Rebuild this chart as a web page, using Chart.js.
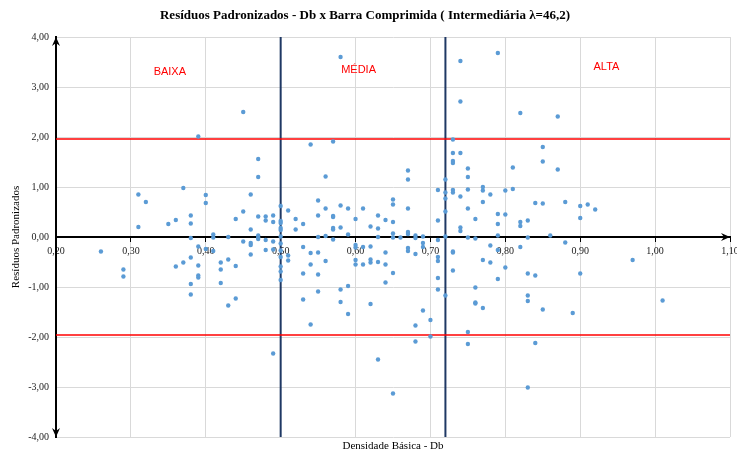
<!DOCTYPE html>
<html lang="pt">
<head>
<meta charset="utf-8">
<title>Resíduos Padronizados - Db x Barra Comprimida</title>
<script src="https://cdn.jsdelivr.net/npm/chart.js@4.4.1/dist/chart.umd.min.js"></script>
<style>
  html, body { margin: 0; padding: 0; background: #fff; }
  #wrap { width: 737px; height: 452px; position: relative; }
</style>
</head>
<body>
<div id="wrap"><canvas id="residuosChart"></canvas></div>
<script>
// densidade básica (x) e resíduos padronizados lidos em cada coluna
const dbValues = [
  0.26, 0.29, 0.31, 0.32, 0.35, 0.36, 0.37, 0.38, 0.39, 0.40,
  0.41, 0.42, 0.43, 0.44, 0.45, 0.46, 0.47, 0.48, 0.49, 0.50,
  0.51, 0.52, 0.53, 0.54, 0.55, 0.56, 0.57, 0.58, 0.59, 0.60,
  0.61, 0.62, 0.63, 0.64, 0.65, 0.66, 0.67, 0.68, 0.69, 0.70,
  0.71, 0.72, 0.73, 0.74, 0.75, 0.76, 0.77, 0.78, 0.79, 0.80,
  0.81, 0.82, 0.83, 0.84, 0.85, 0.86, 0.87, 0.88, 0.89, 0.90,
  0.91, 0.92, 0.97, 1.01
];
const residuosPorDb = [
  [-0.29],
  [-0.65, -0.79],
  [0.85, 0.20],
  [0.70],
  [0.26],
  [0.34, -0.59],
  [0.98, -0.51],
  [0.43, 0.27, -0.02, -0.41, -0.94, -1.15],
  [2.01, -0.19, -0.57, -0.77, -0.81],
  [0.84, 0.68, -0.24],
  [0.05, -0.01, -0.28],
  [-0.51, -0.65, -0.92],
  [0.00, -0.45, -1.37],
  [0.36, -0.58, -1.23],
  [2.50, 0.51, -0.09],
  [0.85, 0.15, -0.12, -0.16, -0.35],
  [1.56, 1.20, 0.41, 0.03, -0.01, -0.04],
  [0.41, 0.33, -0.06, -0.26],
  [0.43, 0.30, -0.09, -0.25, -2.33],
  [0.62, 0.32, 0.28, 0.18, 0.14, 0.01, -0.13, -0.27, -0.40, -0.59, -0.69, -0.86],
  [0.53, -0.37, -0.47],
  [0.36, 0.15],
  [0.26, -0.20, -0.73, -1.25],
  [1.85, -0.32, -0.55, -1.75],
  [0.73, 0.43, 0.00, -0.31, -0.75, -1.09],
  [1.21, 0.57, 0.02, -0.48],
  [1.91, 0.42, 0.40, 0.18, 0.15, -0.05],
  [3.60, 0.63, 0.19, -1.05, -1.30],
  [0.57, 0.05, -0.98, -1.54],
  [0.36, -0.16, -0.21, -0.46, -0.55],
  [0.57, -0.20, -0.55],
  [0.21, -0.19, -0.45, -0.51, -1.34],
  [0.43, 0.17, 0.00, -0.50, -2.45],
  [0.34, -0.31, -0.55, -0.91],
  [0.75, 0.65, 0.30, 0.07, -0.01, -0.72, -3.13],
  [-0.01],
  [1.33, 1.15, 0.57, 0.10, 0.06, -0.22, -0.28],
  [0.03, -0.02, -0.34, -1.77, -2.09],
  [0.01, -0.12, -0.20, -1.47],
  [-1.66, -1.99],
  [0.94, 0.33, -0.06, -0.40, -0.48, -0.82, -1.05],
  [1.15, 0.89, 0.77, 0.51, 0.01, -1.17],
  [1.95, 1.68, 1.52, 1.48, 0.94, 0.89, -0.29, -0.31, -0.67],
  [3.52, 2.71, 1.68, 0.81, 0.19, 0.12],
  [1.37, 1.20, 0.95, 0.57, -0.01, -1.90, -2.14],
  [0.36, -0.03, -1.01, -1.31, -1.33],
  [1.00, 0.93, 0.70, -0.46, -1.42],
  [0.85, -0.17, -0.51],
  [3.68, 0.46, 0.26, 0.03, -0.26, -0.84],
  [0.93, 0.45, -0.61],
  [1.39, 0.96],
  [2.48, 0.30, 0.22, -0.20],
  [0.33, -0.01, -0.73, -1.17, -1.28, -3.01],
  [0.68, -0.77, -2.12],
  [1.80, 1.51, 0.67, -1.45],
  [0.03],
  [2.41, 1.35],
  [0.70, -0.11],
  [-1.52],
  [0.62, 0.38, -0.73],
  [0.65],
  [0.55],
  [-0.46],
  [-1.27]
];
const xTickLabels = ["0,20", "0,30", "0,40", "0,50", "0,60", "0,70", "0,80", "0,90", "1,00", "1,10"];
const yTickLabels = ["-4,00", "-3,00", "-2,00", "-1,00", "0,00", "1,00", "2,00", "3,00", "4,00"];
const limiteResiduo = 1.96;
const limitesClasse = [0.50, 0.72];
const classes = ["BAIXA", "MÉDIA", "ALTA"];

const pontos = [];
dbValues.forEach((db, i) => {
  residuosPorDb[i].forEach((r) => pontos.push({ x: db, y: r }));
});

const serif = "'Liberation Serif', 'Times New Roman', serif";

// setas nas pontas dos eixos
const axisArrows = {
  id: "axisArrows",
  afterDraw(chart) {
    const { ctx, chartArea: a, scales } = chart;
    const y0 = scales.y.getPixelForValue(0);
    const x0 = scales.x.getPixelForValue(0.2);
    const arrow = (tx, ty, dx, dy) => {
      const px = -dy, py = dx;
      ctx.beginPath();
      ctx.moveTo(tx, ty);
      ctx.lineTo(tx - dx * 9 + px * 4, ty - dy * 9 + py * 4);
      ctx.lineTo(tx - dx * 6, ty - dy * 6);
      ctx.lineTo(tx - dx * 9 - px * 4, ty - dy * 9 - py * 4);
      ctx.closePath();
      ctx.fill();
    };
    ctx.save();
    ctx.fillStyle = "#000";
    arrow(a.right, y0, 1, 0);
    arrow(x0, a.top, 0, -1);
    arrow(x0, a.bottom, 0, 1);
    ctx.restore();
  },
};

// rótulos das classes de densidade
const classLabels = {
  id: "classLabels",
  afterDatasetsDraw(chart, args, opts) {
    const { ctx, scales } = chart;
    ctx.save();
    ctx.fillStyle = "#ff0000";
    ctx.font = "11px 'Liberation Sans', Arial, sans-serif";
    ctx.textAlign = "center";
    ctx.textBaseline = "middle";
    classes.forEach((name, i) => {
      const [x, y] = opts.anchors[i];
      ctx.fillText(name, scales.x.getPixelForValue(x), scales.y.getPixelForValue(y));
    });
    ctx.restore();
  },
};

const ctx = document.getElementById("residuosChart");

new Chart(ctx, {
  type: "scatter",
  data: {
    datasets: [
      {
        label: "Resíduos",
        data: pontos,
        backgroundColor: "#5b9bd5",
        borderWidth: 0,
        pointRadius: 2.2,
        order: 0,
      },
      {
        label: "Limite superior",
        data: [{ x: 0.2, y: limiteResiduo }, { x: 1.1, y: limiteResiduo }],
        showLine: true,
        borderColor: "#ff0000",
        borderWidth: 1.5,
        pointRadius: 0,
        order: 1,
      },
      {
        label: "Limite inferior",
        data: [{ x: 0.2, y: -limiteResiduo }, { x: 1.1, y: -limiteResiduo }],
        showLine: true,
        borderColor: "#ff0000",
        borderWidth: 1.5,
        pointRadius: 0,
        order: 1,
      },
      ...limitesClasse.map((lim) => ({
        label: "Classe " + lim,
        data: [{ x: lim, y: -4 }, { x: lim, y: 4 }],
        showLine: true,
        borderColor: "#1f3864",
        borderWidth: 2,
        pointRadius: 0,
        order: 1,
      })),
    ],
  },
  options: {
    responsive: true,
    maintainAspectRatio: false,
    animation: false,
    layout: {
      padding: { left: 0, right: 7, top: 0, bottom: 0 },
    },
    plugins: {
      legend: { display: false },
      tooltip: { enabled: false },
      title: {
        display: true,
        text: "Resíduos Padronizados - Db x Barra Comprimida ( Intermediária λ=46,2)",
        color: "#000",
        font: { family: serif, size: 13, weight: "bold" },
        padding: { top: 8, bottom: 13.4 },
      },
      subtitle: {
        display: true,
        position: "bottom",
        fullSize: false,
        text: "Densidade Básica - Db",
        color: "#000",
        font: { family: serif, size: 11, lineHeight: 1 },
        padding: { top: 4, bottom: 0 },
      },
      classLabels: {
        anchors: [[0.352, 3.31], [0.604, 3.35], [0.935, 3.40]],
      },
    },
    scales: {
      x: {
        type: "linear",
        position: { y: 0 },
        min: 0.2,
        max: 1.1,
        afterBuildTicks: (s) => {
          s.ticks = xTickLabels.map((_, i) => ({ value: 0.2 + i * 0.1 }));
        },
        afterFit: (s) => {
          s.height = 0;
          s.paddingLeft = 0;
          s.paddingRight = 0;
        },
        ticks: {
          color: "#222",
          font: { family: serif, size: 10 },
          padding: 4,
          maxRotation: 0,
          autoSkip: false,
          callback: (v, i) => xTickLabels[i],
        },
        grid: {
          color: (c) => (c.index === 0 ? "transparent" : "#d9d9d9"),
          tickColor: "#000",
          tickLength: 4,
        },
        border: { color: "#000", width: 2 },
      },
      y: {
        position: "left",
        min: -4,
        max: 4,
        afterBuildTicks: (s) => {
          s.ticks = yTickLabels.map((_, i) => ({ value: -4 + i }));
        },
        afterFit: (s) => {
          s.width = 56;
        },
        ticks: {
          color: "#222",
          font: { family: serif, size: 10 },
          padding: 7,
          callback: (v, i) => yTickLabels[i],
        },
        grid: {
          color: (c) => (c.tick && c.tick.value === 0 ? "transparent" : "#d9d9d9"),
          drawTicks: false,
        },
        border: { color: "#000", width: 2 },
        title: {
          display: true,
          text: "Resíduos Padronizados",
          color: "#000",
          font: { family: serif, size: 11 },
          padding: { top: 10, bottom: 0 },
        },
      },
    },
  },
  plugins: [axisArrows, classLabels],
});
</script>
</body>
</html>
